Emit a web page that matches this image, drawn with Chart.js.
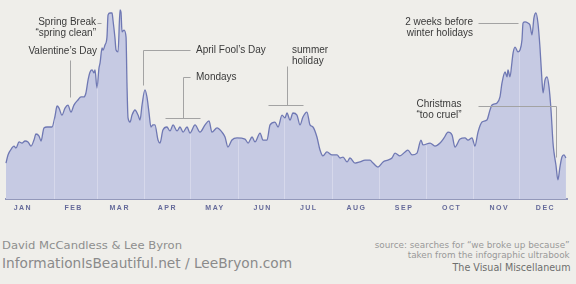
<!DOCTYPE html>
<html><head><meta charset="utf-8">
<script src="https://cdn.jsdelivr.net/npm/chart.js@4"></script>
<style>
html,body{margin:0;padding:0;background:#efeeea;}
#wrap{position:relative;width:576px;height:284px;overflow:hidden;background:#efeeea;}
#cbox{position:absolute;left:0;top:0;width:576px;height:220px;}
.t{position:absolute;white-space:nowrap;}
</style></head><body>
<div id="wrap">
<div id="cbox"><canvas id="c" width="576" height="220"></canvas></div>
<div class="t" id="f1" style="left:2px;top:239px;font:11px 'DejaVu Sans';line-height:14px;color:#8e8e8e;">David McCandless &amp; Lee Byron</div>
<div class="t" id="f2" style="left:2px;top:254px;font:14px 'DejaVu Sans';line-height:18px;color:#8a8a8a;">InformationIsBeautiful.net / LeeBryon.com</div>
<div class="t" id="s1" style="right:6px;top:239px;font:8.5px 'DejaVu Sans';line-height:12px;color:#999;">source: searches for “we broke up because”</div>
<div class="t" id="s2" style="right:6px;top:249px;font:8.5px 'DejaVu Sans';line-height:12px;color:#999;">taken from the infographic ultrabook</div>
<div class="t" id="s3" style="right:6px;top:260px;font:10.5px 'DejaVu Sans';line-height:14px;color:#6e6e6e;">The Visual Miscellaneum</div>
</div>
<script>
// Day of year (x) and relative search interest (0-100)
const days = [
0,1.3,3.9,5.2,6.5,8.5,10.4,12.4,14.3,16.3,18.2,19.5,21.5,22.8,24.7,26.7,29.9,
31.9,33.2,34.5,36.4,38.4,40.3,42.3,44.2,46.8,48.8,50.7,52.0,53.4,54.7,56.0,57.3,57.9,
59.2,60.5,61.2,62.5,63.1,64.4,65.7,66.4,67.7,69.0,69.6,70.9,71.6,72.9,74.2,74.8,75.5,76.8,78.1,78.7,79.4,80.7,82.0,83.9,85.9,87.2,88.5,
90.4,91.7,93.0,94.3,95.6,96.9,98.9,100.2,102.1,104.7,106.7,108.7,111.3,113.2,115.2,117.8,119.7,
123.0,126.2,129.5,132.1,134.0,137.3,140.5,142.5,144.4,147.0,150.3,
155.5,157.5,160.1,162.0,165.3,167.2,169.8,171.8,175.0,177.0,179.6,
181.5,182.8,184.8,186.7,189.3,191.3,193.2,195.8,197.8,199.7,202.3,204.3,206.2,208.8,
212.1,215.4,217.3,219.3,221.9,223.8,227.1,230.3,233.6,236.8,238.8,242.0,
245.3,248.5,251.1,253.1,256.3,259.6,261.5,264.2,267.4,270.0,271.3,
275.9,279.1,282.4,285.0,287.6,290.2,292.1,295.4,298.6,300.6,303.2,
305.1,307.1,309.7,312.9,314.9,316.2,319.5,321.4,322.7,324.7,326.0,326.6,327.9,329.2,329.9,331.2,333.1,
334.4,335.7,336.4,337.7,339.6,340.9,342.2,343.5,344.8,346.1,347.4,348.7,349.4,350.7,352.0,353.3,354.6,355.9,356.5,357.8,359.1,360.4,361.7,363.0,364.3
];
const values = [
19.0,23.3,27.0,28.0,27.0,30.2,29.6,30.7,30.2,28.0,31.2,34.4,33.3,30.7,37.6,38.1,38.1,
43.9,49.2,48.1,44.4,48.1,49.7,46.0,49.7,52.4,54.0,54.0,56.1,63.0,67.2,68.3,66.7,68.3,
58.7,69.3,72.0,79.9,78.8,81.5,85.7,97.4,98.4,98.4,94.7,85.2,78.8,77.8,100,98.9,88.4,89.4,85.7,61.4,42.9,40.7,44.4,47.1,44.4,41.8,49.7,
57.7,54.0,46.0,38.1,39.2,39.2,31.2,29.6,36.5,38.1,36.0,39.2,36.0,38.1,35.4,38.1,34.9,
39.2,35.4,39.2,41.3,35.4,37.6,35.4,32.8,27.5,31.2,32.3,
31.7,29.6,32.8,30.2,34.9,31.2,31.2,39.2,40.7,38.1,44.4,
42.9,45.5,41.8,45.5,44.4,39.2,43.4,46.0,39.2,38.1,32.8,25.9,22.8,24.9,
23.3,23.3,21.7,22.2,19.6,21.7,19.0,19.6,20.6,20.6,19.0,16.9,
19.6,20.6,21.7,24.3,22.8,24.9,25.9,23.3,24.3,31.2,28.6,
29.6,28.0,29.6,32.3,35.4,33.9,27.5,31.7,32.3,31.2,32.3,
28.0,35.4,40.7,41.8,47.1,49.7,50.8,54.0,61.4,67.2,64.6,68.3,64.6,72.5,77.2,80.4,77.8,
78.8,84.1,93.1,93.7,93.1,92.1,86.8,95.8,98.4,93.1,80.4,63.0,56.1,63.0,64.6,59.3,47.1,29.6,24.9,18.0,10.1,16.9,22.2,23.3,21.7
];
const monthLabels = ['JAN','FEB','MAR','APR','MAY','JUN','JUL','AUG','SEP','OCT','NOV','DEC'];
const monthLabelDays = [11,44,74,105,136,167,197,228,259,290,321,351];
const monthStartDays = [0,31,59,90,120,151,181,212,243,273,304,334];

// annotation texts and leader lines (layout in canvas pixels)
const notes = [
  {lines:['Spring Break','“spring clean”'], x:96, y:[22,33], align:'right'},
  {lines:['Valentine’s Day'], x:97, y:[51], align:'right'},
  {lines:['April Fool’s Day'], x:196, y:[50], align:'left'},
  {lines:['Mondays'], x:196, y:[77], align:'left'},
  {lines:['summer','holiday'], x:292, y:[50,61], align:'left'},
  {lines:['2 weeks before','winter holidays'], x:473, y:[22,33], align:'right'},
  {lines:['Christmas','“too cruel”'], x:439, y:[104,115], align:'center'}
];
const leaders = [
  [[97,23],[101,23]],
  [[70,60],[70,97]],
  [[143,85],[143,50],[190,50]],
  [[190,77],[183,77],[183,118]],
  [[165,118],[200,118]],
  [[287,66],[287,105]],
  [[268,105],[303,105]],
  [[478,23],[518,23]],
  [[478,106],[556,106],[556,157]]
];

const lsPlugin = {
  id:'ls',
  beforeDraw(c){ c.ctx.letterSpacing='1.5px'; },
  beforeDatasetsDraw(c){ c.ctx.letterSpacing='0px'; }
};
const monthLines = {
  id:'monthLines',
  afterDatasetsDraw(c){
    const ctx=c.ctx, a=c.chartArea, xs=c.scales.x, pts=c.getDatasetMeta(0).data;
    ctx.save();
    ctx.beginPath();
    ctx.moveTo(pts[0].x,a.bottom);
    pts.forEach(p=>ctx.lineTo(p.x,p.y+1.5));
    ctx.lineTo(pts[pts.length-1].x,a.bottom);
    ctx.closePath();
    ctx.clip();
    ctx.strokeStyle='rgba(255,255,255,0.28)';
    ctx.lineWidth=1;
    monthStartDays.slice(1).forEach(d=>{
      const x=Math.round(xs.getPixelForValue(d))+0.5;
      ctx.beginPath(); ctx.moveTo(x,a.top); ctx.lineTo(x,a.bottom); ctx.stroke();
    });
    ctx.restore();
  }
};
const notesPlugin = {
  id:'notes',
  afterDraw(c){
    const ctx=c.ctx;
    ctx.save();
    ctx.letterSpacing='0px';
    ctx.strokeStyle='#a3a3a3';
    ctx.lineWidth=1;
    leaders.forEach(pl=>{
      ctx.beginPath();
      pl.forEach((p,i)=>{ const x=p[0]+0.5,y=p[1]+0.5; i?ctx.lineTo(x,y):ctx.moveTo(x,y); });
      ctx.stroke();
    });
    ctx.fillStyle='#3a3a3a';
    ctx.font="10px 'Liberation Sans'";
    ctx.textBaseline='middle';
    notes.forEach(n=>{
      ctx.textAlign=n.align;
      n.lines.forEach((t,i)=>ctx.fillText(t,n.x,n.y[i]));
    });
    ctx.restore();
  }
};

new Chart(document.getElementById('c'),{
  type:'line',
  data:{datasets:[{
    data: days.map((d,i)=>({x:d,y:values[i]})),
    borderColor:'#6f78b3', borderWidth:1.3,
    backgroundColor:'#c6cae3', fill:'origin',
    pointRadius:0, tension:0.3, cubicInterpolationMode:'monotone', clip:4
  }]},
  options:{
    responsive:false, animation:false,
    layout:{padding:{left:6,right:9,top:10,bottom:0}},
    plugins:{legend:{display:false},tooltip:{enabled:false}},
    scales:{
      x:{type:'linear',min:0,max:365,
        afterBuildTicks:s=>{ s.ticks=monthLabelDays.map(v=>({value:v})); },
        afterFit:s=>{ s.height=21; },
        grid:{display:false,drawTicks:false},
        border:{display:true,color:'#9398ba',width:2},
        ticks:{padding:5,maxRotation:0,autoSkip:false,color:'#656a9a',
          font:{family:'Liberation Sans',size:7,weight:'bold'},
          callback:(v,i)=>monthLabels[i]}
      },
      y:{display:false,min:0,max:100}
    }
  },
  plugins:[lsPlugin,monthLines,notesPlugin]
});

function fit(id,w,right){
  const el=document.getElementById(id);
  const cw=el.getBoundingClientRect().width;
  el.style.transformOrigin=right?'right center':'left center';
  el.style.transform='scaleX('+(w/cw)+')';
}
fit('f1',180,false);
fit('f2',290,false);
fit('s1',195,true);
fit('s2',162,true);
fit('s3',118,true);
</script>
</body></html>
